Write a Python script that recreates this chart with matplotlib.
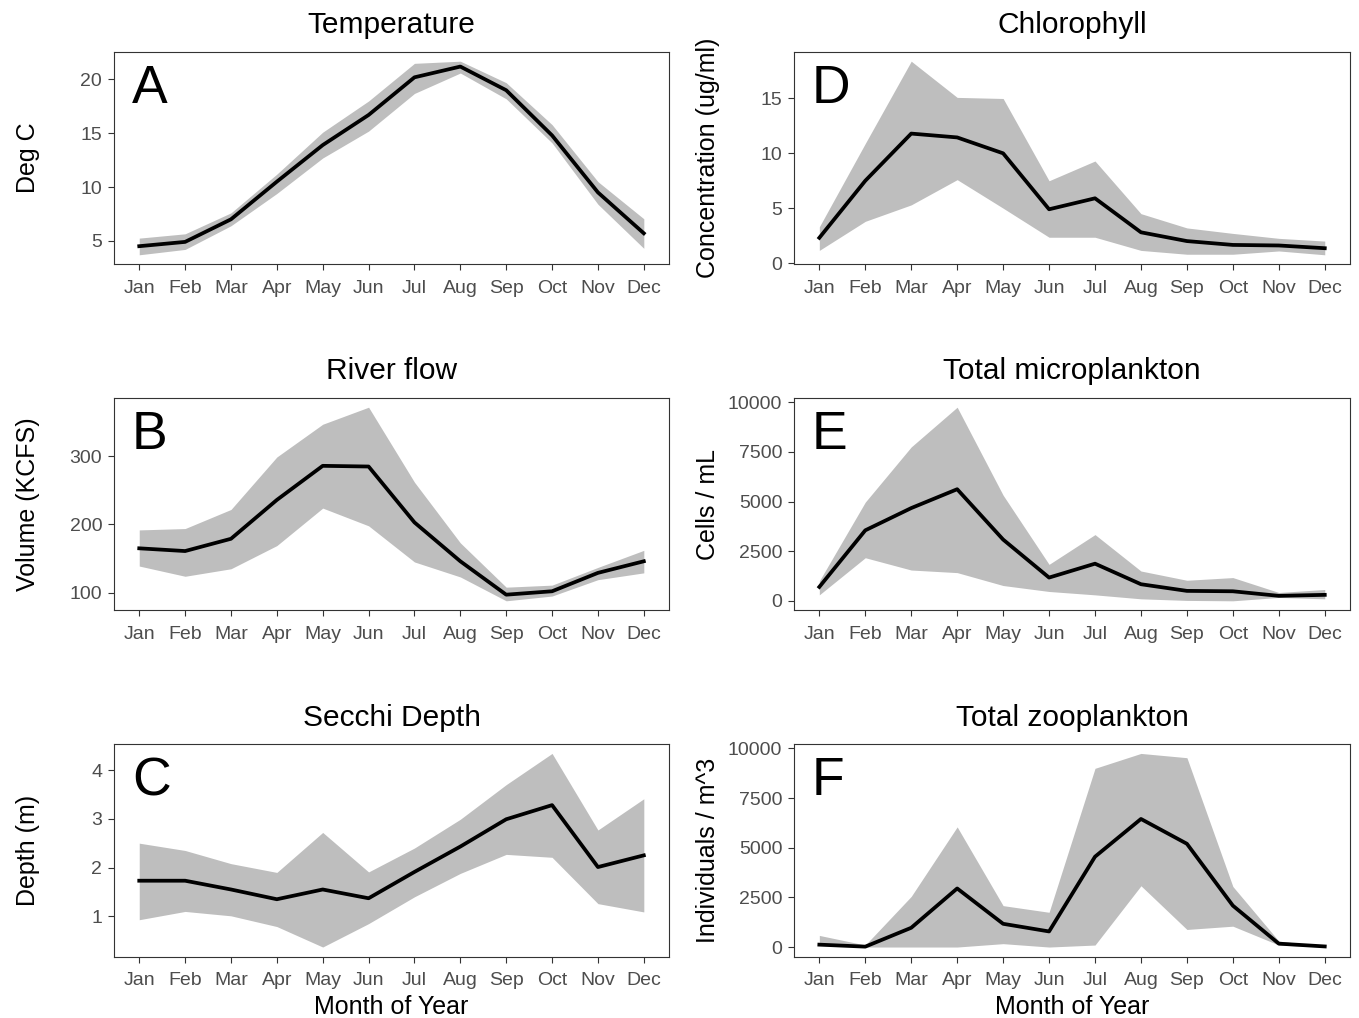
import numpy as np
import matplotlib
matplotlib.use("Agg")
import matplotlib.pyplot as plt

# ---------------- DATA ----------------
months = ["Jan", "Feb", "Mar", "Apr", "May", "Jun", "Jul", "Aug", "Sep", "Oct", "Nov", "Dec"]

temp_mean = [4.5, 4.9, 7.0, 10.5, 13.9, 16.7, 20.2, 21.2, 19.0, 14.8, 9.5, 5.7]
temp_lo = [3.7, 4.2, 6.4, 9.4, 12.7, 15.2, 18.7, 20.6, 18.2, 14.1, 8.4, 4.3]
temp_hi = [5.25, 5.65, 7.6, 11.2, 15.1, 18.0, 21.5, 21.7, 19.7, 15.8, 10.5, 7.05]

flow_mean = [165, 161, 179, 236, 286, 285, 203, 146, 97, 102, 129, 146]
flow_lo = [139, 124, 135, 169, 224, 198, 145, 123, 88, 95, 119, 129]
flow_hi = [192, 194, 222, 299, 347, 372, 262, 173, 108, 111, 137, 162]

secchi_mean = [1.73, 1.73, 1.55, 1.35, 1.55, 1.37, 1.91, 2.43, 2.99, 3.28, 2.01, 2.25]
secchi_lo = [0.93, 1.10, 1.01, 0.79, 0.37, 0.85, 1.40, 1.88, 2.27, 2.21, 1.26, 1.09]
secchi_hi = [2.50, 2.35, 2.08, 1.90, 2.72, 1.91, 2.40, 2.99, 3.70, 4.34, 2.77, 3.41]

chl_mean = [2.3, 7.5, 11.8, 11.45, 10.0, 4.9, 5.9, 2.8, 2.0, 1.65, 1.6, 1.35]
chl_lo = [1.15, 3.8, 5.3, 7.6, 5.0, 2.35, 2.35, 1.15, 0.8, 0.8, 1.1, 0.75]
chl_hi = [3.3, 10.9, 18.4, 15.1, 15.0, 7.5, 9.3, 4.5, 3.2, 2.7, 2.25, 2.0]

micro_mean = [700, 3550, 4670, 5620, 3085, 1170, 1870, 835, 500, 480, 250, 300]
micro_lo = [300, 2170, 1550, 1420, 770, 470, 300, 100, 20, 0, 170, 100]
micro_hi = [1000, 4970, 7750, 9750, 5320, 1835, 3335, 1500, 1035, 1170, 420, 570]

zoo_mean = [120, 20, 970, 2950, 1170, 785, 4550, 6450, 5200, 2085, 170, 30]
zoo_lo = [100, 0, 0, 0, 170, 0, 100, 3085, 885, 1050, 100, 0]
zoo_hi = [585, 100, 2550, 6050, 2085, 1750, 9000, 9750, 9535, 3050, 300, 35]

# ---------------- STYLE ----------------
plt.rcParams["font.family"] = ["Liberation Sans", "DejaVu Sans"]
band_color = "#bebebe"
frame_color = "#333333"
tick_text = "#4d4d4d"

fig = plt.figure(figsize=(13.59, 10.18), dpi=100)

# axes boxes: left/right column, three rows
col_left = [0.0839, 0.5843]
col_width = [0.4084, 0.4091]
row_bottom = [0.7402, 0.4003, 0.0602]
ax_height = 0.2092

panels = [
    # (col, row, title, letter, ylabel, mean, lo, hi, yticks, xlabel)
    (0, 0, "Temperature", "A", "Deg C", temp_mean, temp_lo, temp_hi, [5, 10, 15, 20], False),
    (0, 1, "River flow", "B", "Volume (KCFS)", flow_mean, flow_lo, flow_hi, [100, 200, 300], False),
    (0, 2, "Secchi Depth", "C", "Depth (m)", secchi_mean, secchi_lo, secchi_hi, [1, 2, 3, 4], True),
    (1, 0, "Chlorophyll", "D", "Concentration (ug/ml)", chl_mean, chl_lo, chl_hi, [0, 5, 10, 15], False),
    (1, 1, "Total microplankton", "E", "Cells / mL", micro_mean, micro_lo, micro_hi,
     [0, 2500, 5000, 7500, 10000], False),
    (1, 2, "Total zooplankton", "F", "Individuals / m^3", zoo_mean, zoo_lo, zoo_hi,
     [0, 2500, 5000, 7500, 10000], True),
]

x = np.arange(1, 13)

for col, row, title, letter, ylabel, mean, lo, hi, yticks, show_xlabel in panels:
    ax = fig.add_axes([col_left[col], row_bottom[row], col_width[col], ax_height])
    ax.fill_between(x, lo, hi, color=band_color, linewidth=0)
    ax.plot(x, mean, color="black", linewidth=2.7)

    # ggplot style 5% expansion
    ymin, ymax = min(lo), max(hi)
    pad = (ymax - ymin) * 0.05
    ax.set_ylim(ymin - pad, ymax + pad)
    ax.set_xlim(1 - 0.55, 12 + 0.55)

    ax.set_xticks(x)
    ax.set_xticklabels(months)
    ax.set_yticks(yticks)
    ax.tick_params(axis="both", length=4.5, width=0.8, color=frame_color,
                   labelsize=14, labelcolor=tick_text)
    ax.tick_params(axis="x", pad=6.5)
    ax.tick_params(axis="y", pad=4)
    for s in ax.spines.values():
        s.set_color(frame_color)
        s.set_linewidth(0.8)

    ax.set_title(title, fontsize=21.5, pad=13)
    ax.set_ylabel(ylabel, fontsize=18)
    ax.yaxis.set_label_coords(-0.133, 0.5)
    if show_xlabel:
        ax.set_xlabel("Month of Year", fontsize=18, va="top")
        ax.xaxis.set_label_coords(0.5, -0.178)

    ax.text(0.032, 0.941, letter, transform=ax.transAxes, fontsize=38.5,
            ha="left", va="top")

fig.savefig("out.png", dpi=100)
